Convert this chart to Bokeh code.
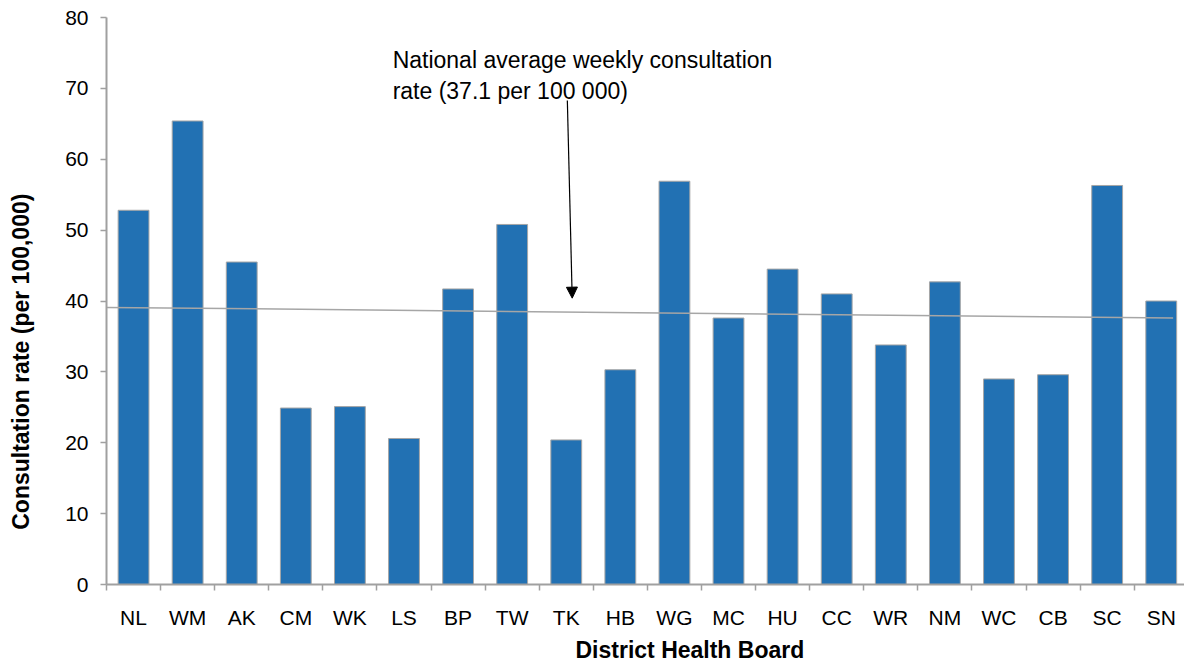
from bokeh.plotting import figure
from bokeh.models import Range1d, FixedTicker, Title, Label, Arrow, NormalHead
from bokeh.embed import file_html
from bokeh.resources import INLINE
import numpy as np

# ---- data ----
boards = ["NL", "WM", "AK", "CM", "WK", "LS", "BP", "TW", "TK", "HB",
          "WG", "MC", "HU", "CC", "WR", "NM", "WC", "CB", "SC", "SN"]
rates = [52.8, 65.4, 45.5, 24.9, 25.1, 20.6, 41.7, 50.8, 20.4, 30.3,
         56.9, 37.6, 44.5, 41.0, 33.8, 42.7, 29.0, 29.6, 56.3, 40.0]
trend_rates = [39.1, 37.6]
y_ticks = [0, 10, 20, 30, 40, 50, 60, 70, 80]
annotation_text = "National average weekly consultation\nrate (37.1 per 100 000)"
arrow_rates = [68.3, 40.4]

FONT = "Liberation Sans"
n = len(boards)
xs = np.arange(n) + 0.5

p = figure(width=1184, height=666, output_backend="svg", toolbar_location=None,
           x_range=Range1d(0, 19.93), y_range=Range1d(0, 80),
           min_border_left=106, min_border_right=0, min_border_top=17, min_border_bottom=81)
p.outline_line_color = None
p.xgrid.visible = False
p.ygrid.visible = False

p.vbar(x=xs, top=rates, width=0.57, fill_color="#2271B3",
       line_color="#A6A6A6", line_width=1)

p.line(x=[0, 19.72], y=trend_rates, line_color="#A6A6A6", line_width=1.5)

# axes
ax = p.xaxis[0]
ax.ticker = FixedTicker(ticks=list(xs), minor_ticks=list(range(n + 1)))
ax.major_label_overrides = {float(x): b for x, b in zip(xs, boards)}
ax.major_tick_out = 0
ax.major_tick_in = 0
ax.minor_tick_out = 6
ax.minor_tick_in = 0
ax.minor_tick_line_color = "#A0A0A0"
ax.minor_tick_line_width = 1.5
ax.axis_line_color = "#A0A0A0"
ax.axis_line_width = 2
ax.major_label_standoff = 15
ax.major_label_text_font = FONT
ax.major_label_text_font_size = "21px"
ax.major_label_text_color = "#000000"

ay = p.yaxis[0]
ay.ticker = FixedTicker(ticks=y_ticks)
ay.major_tick_out = 6
ay.major_tick_in = 0
ay.minor_tick_out = 0
ay.minor_tick_in = 0
ay.major_tick_line_color = "#A0A0A0"
ay.major_tick_line_width = 1.5
ay.axis_line_color = "#A0A0A0"
ay.axis_line_width = 2
ay.major_label_standoff = 12
ay.major_label_text_font = FONT
ay.major_label_text_font_size = "21px"
ay.major_label_text_color = "#000000"

# y axis title (padded with no-break spaces so it sits lower, as in the original)
ay.axis_label = "Consultation rate (per 100,000)" + "\u00a0" * 19
ay.axis_label_standoff = 28
ay.axis_label_text_font = FONT
ay.axis_label_text_font_size = "23px"
ay.axis_label_text_font_style = "bold"
ay.axis_label_text_color = "#000000"

xtitle = Title(text="District Health Board", align="left", offset=469,
               text_font=FONT, text_font_size="23px", text_font_style="bold",
               text_color="#000000", standoff=7)
p.add_layout(xtitle, "below")

# annotation
p.add_layout(Label(x=5.29, y=75.9, text=annotation_text, text_font=FONT,
                   text_font_size="23px", text_color="#000000",
                   text_baseline="top", text_align="left"))
p.add_layout(Arrow(end=NormalHead(size=11, fill_color="#000000", line_color="#000000"),
                   x_start=8.52, y_start=arrow_rates[0], x_end=8.61, y_end=arrow_rates[1],
                   line_color="#000000", line_width=1.2))

open("out.html", "w").write(file_html(p, INLINE))
